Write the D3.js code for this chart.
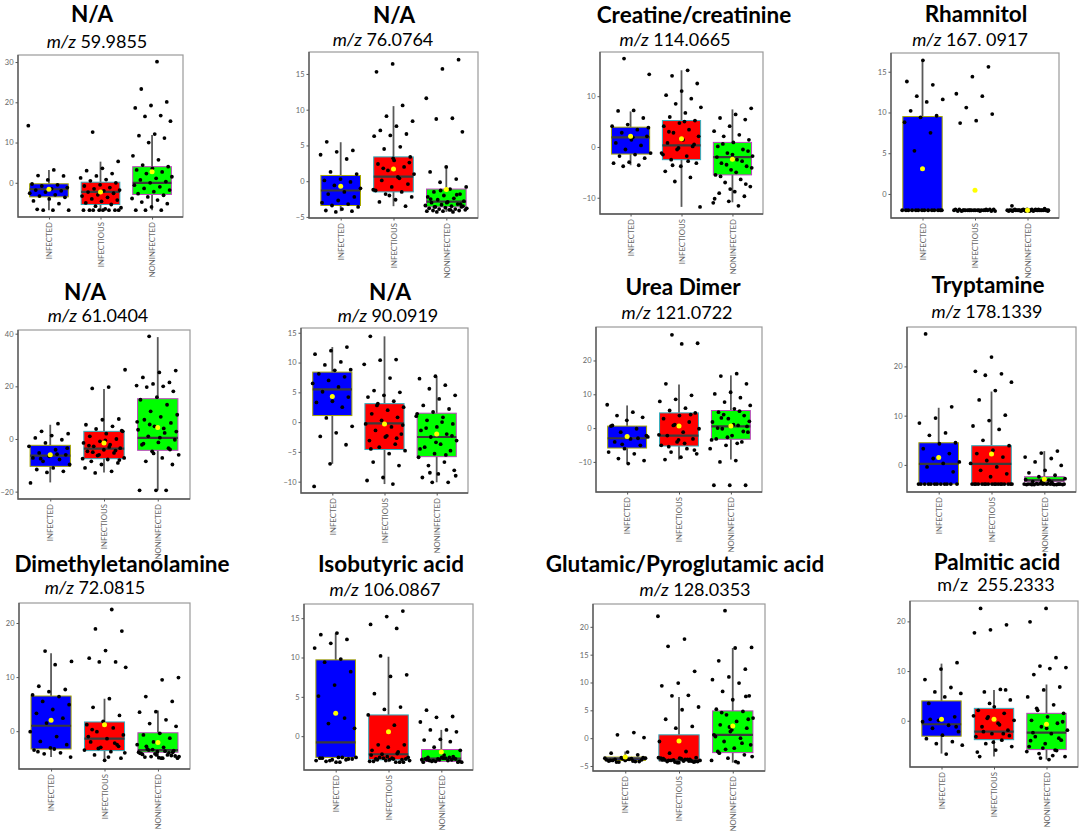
<!DOCTYPE html>
<html>
<head>
<meta charset="utf-8">
<script src="https://cdn.jsdelivr.net/npm/d3@7"></script>
<style>
  body { margin: 0; background: #fff; }
</style>
</head>
<body>
<div id="chart"></div>
<script>
const groups = ["INFECTED", "INFECTIOUS", "NONINFECTED"];
const boxColors = ["#0000ff", "#ff0000", "#00ff00"];
const edgeColors = ["#a8a800", "#30b0c0", "#c040c0"];

const titles = ["N/A", "N/A", "Creatine/creatinine", "Rhamnitol",
  "N/A", "N/A", "Urea Dimer", "Tryptamine",
  "Dimethyletanolamine", "Isobutyric acid", "Glutamic/Pyroglutamic acid", "Palmitic acid"];
const mzValues = ["59.9855", "76.0764", "114.0665", "167. 0917",
  "61.0404", "90.0919", "121.0722", "178.1339",
  "72.0815", "106.0867", "128.0353", "255.2333"];

const yDomains = [[-8.5, 31.75], [-5.15, 18.07], [-13.2, 18.7], [-2.95, 17.3],
  [-22.8, 41.4], [-11.9, 15.8], [-18.9, 29.9], [-5.5, 28],
  [-7, 23.7], [-4.3, 16.8], [-5.9, 24.1], [-9.3, 24.1]];
const yTicks = [[0, 10, 20, 30], [-5, 0, 5, 10, 15], [-10, 0, 10], [0, 5, 10, 15],
  [-20, 0, 20, 40], [-10, -5, 0, 5, 10, 15], [-10, 0, 10, 20], [0, 10, 20],
  [0, 10, 20], [0, 5, 10, 15], [-5, 0, 5, 10, 15, 20], [0, 10, 20]];

// per group: [lower whisker, q1, median, q3, upper whisker, mean]
const boxStats = [
  [[-6.8, -3.5, -1.6, -0.25, 3.2, -1.6], [-6.8, -5.4, -2.25, 0.15, 5.25, -2.3], [-6.8, -2.9, 0, 4.0, 11.9, 2.75]],
  [[-4.2, -3.4, -1.3, 0.8, 5.45, -0.7], [-3.5, -1.5, 0.65, 3.4, 10.5, 1.7], [-4.3, -3.6, -2.85, -1.1, 2.0, -1.15]],
  [[-3.6, -1.4, 1.9, 3.9, 7.0, 2.1], [-11.8, -2.5, 0.3, 5.2, 15.1, 1.6], [-10.9, -5.5, -2.0, 0.9, 7.4, -2.4]],
  [[-2, -2, -2, 9.5, 16.4, 3.1], [-2, -2, -2, -2, -2, 0.45], [-2, -2, -2, -2, -2, -2]],
  [[-16.5, -10.4, -6.3, -2.4, 5.4, -6.0], [-12.7, -7.5, -3.7, 2.9, 19.0, -1.5], [-19.5, -4.3, 0.4, 15.3, 38.7, 4.4]],
  [[-7.0, 1.1, 5.5, 8.4, 12.6, 4.3], [-10.4, -4.6, -0.2, 3.1, 14.4, -0.3], [-10.1, -5.8, -2.5, 1.5, 7.6, -2.0]],
  [[-10.3, -5.9, -3.0, 0.6, 6.7, -2.5], [-9.3, -5.3, -2.2, 4.5, 12.9, 0.6], [-9.3, -3.3, 0.5, 5.2, 15.6, 0.6]],
  [[-3.9, -3.9, 0.2, 4.5, 11.6, 1.5], [-3.9, -3.9, 0.2, 3.9, 14.9, 2.2], [-3.9, -3.4, -3.1, -2.4, 2.8, -2.9]],
  [[-4.8, -3.3, 1.0, 6.5, 14.4, 2.0], [-5.3, -3.6, -1.4, 1.7, 6.0, 1.2], [-4.8, -3.9, -3.5, -0.3, 3.8, -2.1]],
  [[-2.7, -2.7, -0.8, 9.7, 13.1, 2.9], [-3.3, -3.0, -2.3, 2.7, 10.1, 0.55], [-3.2, -3.2, -2.85, -1.7, 0.8, -2.0]],
  [[-4.3, -4.0, -3.7, -3.4, -2.4, -3.4], [-4.4, -4.0, -4.0, 0.6, 7.4, -0.5], [-4.4, -2.6, 0.6, 4.9, 16.2, 2.2]],
  [[-6.6, -3.1, -0.7, 4.0, 11.5, 0.3], [-7.2, -3.8, -2.2, 2.5, 6.2, 0.3], [-7.8, -5.8, -2.4, 1.5, 7.3, -0.7]]
];

// individual samples per group
const pointValues = [
  [[14.2, 3.2, 1.8, 1.7, 0.7, -0.3, -0.5, -0.8, -1.2, -1.5, -1.8, -2, -2.3, -2.6, -3, -3.3, -3.6, -4, -4.5, -5.2, -6.8, -6.8, -6.8, -6.6],
   [12.6, 5.3, 3.6, 3.0, 2.3, 1.7, 1.2, 0.8, 0.5, 0, -0.5, -0.8, -1.2, -1.5, -1.8, -2.0, -2.3, -2.6, -3.0, -3.3, -3.6, -4.0, -4.3, -4.6, -5.0, -5.4, -5.8, -6.2, -6.5, -6.8, -6.8, -6.8, -6.8, -6.8, -6.8, -6.8, -6.8],
   [30.1, 23.3, 20.1, 19.2, 18.6, 16.7, 16.5, 15.3, 12.1, 11.7, 11.1, 10, 6.7, 5.7, 4.4, 4, 3.6, 3.2, 2.7, 2.3, 1.5, 1.1, 0.7, 0.3, 0, -0.6, -1, -1.4, -1.8, -2.2, -2.7, -3.1, -3.5, -3.9, -4.3, -4.8, -5.2, -6, -6.8, -6.8, -6.8]],
  [[5.5, 4.3, 4.1, 3.7, 3.1, 1.3, 1, 0.3, 0.1, -0.1, -0.6, -1, -1.5, -1.8, -2.2, -2.7, -3, -3.2, -3.4, -3.6, -3.9, -4.1, -4.2, -4.3],
   [16.4, 15.3, 10.6, 9.1, 8.4, 7.7, 7.1, 6.6, 6.4, 6.3, 4.8, 4.5, 3.4, 2.9, 2.4, 2, 1.5, 1, 0.6, 0.1, -0.4, -0.8, -1.3, -1.5, -1.8, -2.2, -2.6, -2.9, -3.5, -2.0, -1.2, 0.4, 1.8, 2.6, 3.2],
   [17, 15.7, 11.6, 8.8, 8.7, 6.9, 2, 1.3, 0.3, -0.15, -0.8, -1.1, -1.5, -1.8, -2.0, -2.2, -2.4, -2.6, -2.8, -2.9, -3.0, -3.2, -3.3, -3.4, -3.5, -3.6, -3.6, -3.7, -3.8, -3.9, -3.9, -4.0, -4.0, -4.1, -4.1, -4.2, -4.2, -4.3, -4.3, -3.5, -3.0, -2.5, -1.9, -1.3, -3.8, -4.0, -3.6, -3.2]],
  [[17.4, 14.3, 7.2, 7.1, 5.7, 4.4, 4.1, 3.4, 2.8, 2.1, 1.4, 0.8, 0.3, -0.5, -1.2, -1.5, -1.8, -2.2, -3, -3.2, -3.6, -3.8, 3.8, 1.9],
   [15.1, 14, 12.5, 11, 10.2, 9.5, 8.5, 7.8, 6.7, 5.9, 5.2, 4.7, 4.1, 3.4, 2.8, 2.1, 1.4, 0.8, 0.1, -0.5, -1.2, -1.8, -2.5, -3.2, -3.8, -4.8, -6, -6.8, -11.8, 5.0, 3.0, 0.5, -0.2, -1.5, -2.8, -3.6],
   [7.6, 6.4, 5.7, 5.4, 4.1, 3.1, 2.4, 2.1, 1.4, 0.9, 0.1, -0.5, -1.2, -1.8, -2.5, -3.2, -3.8, -4.5, -5.5, -6.4, -7, -7.8, -8.8, -9.1, -9.7, -10.7, -11, -11.6, 0.6, -0.8, -1.5, -2.0, -2.8, -3.5, -4.1, -5.0, -5.8, -7.3, -8.3, -10.2]],
  [[16.4, 13.8, 13.4, 12, 11.6, 11.3, 10.2, 9.6, 9.4, 8.8, 7.5, 5.3, -2, -2, -2, -2, -2, -2, -2, -2, -2, -2, -2, -2, -2, -2],
   [15.6, 14.4, 12.3, 12, 10.6, 9.8, 9, 8.7, -1.9, -2, -2, -2.1, -2, -1.9, -2, -2.1, -2, -2, -1.9, -2, -2.1, -2, -2, -1.9, -2, -2, -2.1, -2, -1.9, -2, -2, -2.1, -2, -2],
   [-1.45, -2, -2, -2.1, -1.9, -2, -2, -2.1, -2, -1.9, -2, -2, -2.1, -2, -2, -1.9, -2, -2.1, -2, -2, -1.9, -2, -2, -2.1, -2, -2, -1.9, -2, -2, -2.1, -2, -2, -1.8, -2, -2.1, -1.9, -2, -2]],
  [[5.8, 2.9, 2, 1.3, 0.4, -0.3, -1.5, -2.8, -4.1, -5.3, -6, -6.6, -7.2, -7.8, -8.5, -9.7, -11, -11.6, -12.3, -12.7, -16.7, -5.8, -7.5, -3.5],
   [26.3, 19.7, 19.2, 7.6, 7.3, 5.4, 4.8, 3.8, 2.9, 2, 1, 0, -0.9, -1.5, -2.2, -2.8, -3.5, -4.1, -4.7, -5.3, -6.3, -7.2, -7.8, -8.5, -9.1, -9.7, -11, -12.3, -12.9, 3.2, -0.5, -2.5, -4.4, -6.0, -7.5, -3.0, -5.0, -8.0],
   [39, 26, 25.3, 23.4, 21.5, 20.9, 20.3, 20, 19.7, 18.1, 15.9, 14.9, 13, 10.5, 9.2, 8.4, 7.3, 6.1, 4.8, 3.5, 2.3, 1, -0.3, -1.3, -2.2, -3.5, -4.7, -6, -7.2, -8.5, -9.7, -19.5, -19.5, -19.5, 5.5, 2.8, 0.5, -1.8, -4.0, -5.5, 6.5, 4.0]],
  [[12.6, 12, 11.4, 10.1, 9.6, 8.8, 8.7, 8.1, 7.6, 7, 6.5, 5.9, 5.1, 4.2, 3.5, 3.3, 2.5, 0.7, -0.7, -1.8, -2.4, -3.8, -7, -10.8],
   [14.4, 10.5, 10.4, 9.7, 7.4, 5.3, 5, 4.5, 4.2, 3.5, 3.1, 2.5, 2, 1.4, 0.8, 0.3, -0.3, -0.8, -1.4, -2, -2.5, -3.1, -3.7, -4.2, -4.8, -5.3, -6.7, -7.3, -9.3, -9.8, -10.4, 2.8, -0.5, -2.3, -4.5, -2.7],
   [7.7, 7.3, 6.2, 5.6, 4.5, 3.9, 2.8, 2.2, 1.7, 1.4, 0.8, 0.3, -0.3, -0.8, -1.4, -2, -2.5, -3.1, -3.7, -4.2, -4.8, -5.3, -5.9, -6.7, -7.3, -8.1, -8.7, -9.3, -10.1, -10.1, 1.0, 0.0, -1.0, -2.3, -3.4, -4.5, -5.5, -8.5, -9.0]],
  [[6.9, 4.7, 3.7, 3.2, 2.3, 0.6, -0.2, -1.2, -2.2, -3.2, -4.1, -5.1, -6.1, -7.1, -7.6, -9, -9.6, -10.5, 0.8, -3.0, -4.8, -2.6],
   [27.6, 25.1, 24.9, 13.1, 9.7, 8.5, 7.9, 5.9, 5.2, 4.5, 3.7, 2.8, 1.8, 0.8, -0.2, -1.2, -2.2, -3.2, -4.1, -5.1, -6.1, -7.1, -7.6, -8.6, -9.3, 4.0, 1.0, -2.0, -4.5, -5.5, -6.5, -3.5],
   [16.1, 15.4, 13.1, 10.6, 10.1, 9, 7.7, 6.7, 5.7, 4.7, 3.7, 2.8, 1.8, 0.8, -0.2, -1.2, -2.2, -3.2, -4.1, -5.1, -6.1, -9.6, -10, -16.9, -16.9, -16.9, 5.0, 4.0, 2.0, 1.0, 0.0, -1.0, -2.7, -3.5, -4.5, 3.0, 0.5]],
  [[26.6, 11.8, 9.5, 8.5, 6.5, 6, 4.5, 4.3, 3.3, 2.3, 1.3, 0.6, 0.3, -0.4, -1.4, -3.9, -3.9, -3.9, -3.9, -3.9, -3.9, -3.9, -3.9, -3.9, -3.9, -3.9, -3.9],
   [21.9, 19, 18.5, 18.2, 16.8, 15.1, 13.2, 10.1, 9, 7.9, 7.2, 5, 3.9, 3, 2.3, 1.6, 0.9, 0.3, -0.4, -1.1, -1.8, -2.4, -3.9, -3.9, -3.9, -3.9, -3.9, -3.9, -3.9, -3.9, -3.9, -3.9, -3.9, -3.9, -3.9, -3.9, -3.9, -3.9, -3.9, -3.9],
   [2.8, 2.4, 1.6, 1.3, 0.6, -0.1, -1.1, -1.6, -2.1, -2.4, -2.8, -3.1, -3.4, -3.9, -3.9, -4.0, -3.9, -3.8, -4.0, -3.9, -3.9, -4.0, -3.8, -3.9, -3.9, -4.0, -3.9, -3.8, -3.9, -4.0, -3.9, -3.9, -3.8, -4.0, -3.9, -3.3, -3.0, -3.5]],
  [[14.8, 12.9, 12.3, 8.3, 7.7, 7.3, 6.7, 6.4, 5.5, 4.9, 4, 3.3, 2.4, 1.5, -0.1, -1, -1.9, -2.5, -3.1, -3.5, -4, -4.2, -4.8, -3.3, -3.8],
   [22.5, 18.9, 18.5, 14.9, 13.5, 12.8, 12.8, 11.8, 6, 4.4, 2.9, 1.8, 1.2, 0.6, -0.1, -0.7, -1.4, -2, -2.5, -3, -3.5, -3.8, -4.4, -5, -5.4, -1.0, -2.2, -3.2, -4.0, -4.8, 0.3, -2.8],
   [9.9, 9.5, 6.4, 5.5, 3.6, 3.5, 2.1, 1.4, 0.9, -0.4, -0.7, -1.3, -2, -2.5, -3, -3.3, -3.6, -3.8, -4.1, -4.4, -4.7, -5, -5, -4.8, -4.5, -4.2, -3.9, -3.7, -3.5, -4.6, -4.9, -4.3, -4.0, -3.4, -4.7, -5.0, -2.8, -3.9, -4.4, -4.1]],
  [[13.1, 12.9, 12.3, 11.8, 11.2, 9.8, 9.4, 8.2, 6.5, 5.1, 2.3, 1.6, 1, -2.7, -2.8, -2.9, -3.0, -3.1, -2.7, -3.2, -2.9, -3.3, -2.8, -3.0, -3.1, -2.7, -3.3],
   [15.9, 15.2, 14.2, 13.7, 10.2, 7.8, 7.6, 5.4, 3.7, 3.4, 2.7, 1.4, -1.1, -1.1, -1.4, -1.8, -2, -2.3, -2.7, -2.8, -2.9, -3.0, -3.1, -3.2, -3.3, -2.7, -2.9, -3.0, -3.2, -3.3, -2.8, -3.1, -2.9, -3.0, -3.3, -2.6, -2.4, -2.2],
   [3.3, 2.5, 2.4, 1.8, 0.8, 0.8, 0.55, -0.4, -0.5, -0.7, -1.4, -1.8, -2.4, -2.7, -2.8, -2.9, -3.0, -3.1, -3.2, -3.3, -2.7, -2.9, -3.0, -3.2, -3.3, -2.8, -3.1, -2.9, -3.0, -3.3, -2.7, -3.1, -3.2, -2.8, -3.0, -2.6]],
  [[1, 0.6, 0.1, -2.5, -2.7, -3, -3.5, -3.6, -3.7, -3.8, -3.9, -4.0, -4.1, -4.2, -4.3, -3.6, -3.8, -4.0, -4.2, -3.7, -3.9, -4.1, -4.3, -3.5, -3.8, -4.0],
   [21.9, 17.8, 16.5, 12, 9.9, 9.4, 7.7, 7.6, 5.6, 5.1, 3.4, 2.1, 1.8, -0.6, -2.4, -2.7, -3.5, -3.6, -3.7, -3.8, -3.9, -4.0, -4.1, -4.2, -4.3, -4.4, -3.6, -3.8, -4.0, -4.2, -3.7, -3.9, -4.1, -4.3, -3.5, -3.8, -4.0, -4.2, -4.4, -3.9, -4.1],
   [22.9, 16.3, 16.2, 13.9, 12.4, 11, 10.5, 9.9, 8.4, 7.6, 6.9, 5.2, 4.8, 4.2, 3.6, 3, 2.4, 1.8, 1.2, 0.6, 0, -0.6, -1.2, -1.8, -2.4, -3, -3.6, -4, -4.4, 4.6, 3.4, 1.5, 0.3, -0.9, -2.0, -3.3, -4.2, -2.7, 7.5, 2.0]],
  [[11.7, 10.4, 8.3, 6.7, 5.8, 5.5, 4.8, 3.5, 0.8, 0.1, -0.2, -0.9, -1.5, -2.2, -2.9, -3.6, -4.2, -4.6, -4.9, -6.7, 0.3, -1.2],
   [22.6, 19.3, 18.3, 17.7, 6.3, 5.8, 4.2, 2.8, 2.1, 1.5, 0.8, 0.1, -0.5, -1.2, -1.9, -2.6, -3.2, -3.9, -4.6, -5.2, -5.9, -7.2, 6.2, 3.5, 1.0, -0.8, -2.2, -3.0, -4.3, -6.3, -2.6, 0.5],
   [22.6, 19.9, 12.7, 11, 10.7, 10.5, 9.3, 6.8, 6.2, 4.8, 3.2, 2.1, 1.5, 0.8, 0.1, -0.5, -1.2, -1.9, -2.6, -3.2, -3.9, -4.6, -5.2, -5.9, -6.6, -7.2, -7.8, -2.4, -3.5, -5.5, -6.2, -7.0, 2.5, -0.2, -1.5, -4.0, -6.0, -7.5]]
];

// layout: plot frame [x0, y0, x1, y1], title and m/z label anchor [x, baseline]
const frames = [
  [18, 55, 183, 217], [309, 52, 478, 218], [600, 52, 763, 214], [891, 53, 1059, 218],
  [18, 330, 190, 499], [301, 328, 468, 493], [596, 327, 762, 492], [907, 327, 1076, 492],
  [19, 603, 190, 769], [304, 604, 473, 770], [593, 604, 765, 771], [910, 601, 1078, 767]
];
const titlePos = [[92, 22], [394, 23], [694, 23], [976, 22], [85, 300], [390, 300], [683, 295], [988, 293],
  [122, 572], [391, 572], [685, 572], [997, 570]];
const subPos = [[97, 48], [383, 46], [675, 46], [970, 46], [98, 322], [388, 322], [677, 319], [987, 318],
  [95, 594], [385, 596], [695, 596], [996, 591]];

const svg = d3.select("#chart").append("svg")
  .attr("width", 1084)
  .attr("height", 831)
  .style("background", "#fff");

const fontFamily = "Lato, 'Open Sans', sans-serif";

titles.forEach((title, i) => {
  const [x0, y0, x1, y1] = frames[i];
  const g = svg.append("g");

  const x = d3.scalePoint().domain(groups).range([x0, x1]).padding(0.6);
  const y = d3.scaleLinear().domain(yDomains[i]).range([y1, y0]);
  const boxW = x.step() * 0.75;

  // titles
  g.append("text")
    .attr("x", titlePos[i][0]).attr("y", titlePos[i][1])
    .attr("text-anchor", "middle")
    .attr("font-family", fontFamily)
    .attr("font-weight", 700)
    .attr("font-size", "22.5px")
    .attr("fill", "#000")
    .text(title);

  const sub = g.append("text")
    .attr("x", subPos[i][0]).attr("y", subPos[i][1])
    .attr("text-anchor", "middle")
    .attr("font-family", fontFamily)
    .attr("font-size", "18px")
    .attr("fill", "#000");
  if (i === 11) {
    sub.attr("xml:space", "preserve").text("m/z  " + mzValues[i]);
  } else {
    sub.append("tspan").attr("font-style", "italic").text("m/z");
    sub.append("tspan").text(" " + mzValues[i]);
  }

  // frame
  g.append("rect")
    .attr("x", x0).attr("y", y0)
    .attr("width", x1 - x0).attr("height", y1 - y0)
    .attr("fill", "#fff")
    .attr("stroke", "#9a9a9a")
    .attr("stroke-width", 1.2);
  g.append("path")
    .attr("d", `M${x0},${y0}V${y1}H${x1}`)
    .attr("fill", "none")
    .attr("stroke", "#555")
    .attr("stroke-width", 1.3);

  // y axis
  const yAxis = g.append("g")
    .attr("transform", `translate(${x0},0)`)
    .call(d3.axisLeft(y).tickValues(yTicks[i]).tickSize(2.5).tickPadding(2));
  yAxis.select(".domain").remove();
  yAxis.selectAll("line").attr("stroke", "#555");
  yAxis.selectAll("text").attr("fill", "#666").attr("font-size", "7.5px").attr("font-family", fontFamily);

  // x axis
  const xAxis = g.append("g")
    .attr("transform", `translate(0,${y1})`)
    .call(d3.axisBottom(x).tickSize(2.5).tickPadding(3));
  xAxis.select(".domain").remove();
  xAxis.selectAll("line").attr("stroke", "#555");
  xAxis.selectAll("text")
    .attr("fill", "#666").attr("font-size", "7.8px").attr("font-family", fontFamily)
    .attr("text-anchor", "end")
    .attr("dy", "0.35em")
    .attr("transform", "rotate(-90)")
    .attr("x", -5).attr("y", 0);

  groups.forEach((grp, k) => {
    const [lo, q1, med, q3, hi, mean] = boxStats[i][k];
    const cx = x(grp);

    // whisker
    g.append("line")
      .attr("x1", cx).attr("x2", cx)
      .attr("y1", y(lo)).attr("y2", y(hi))
      .attr("stroke", "#5a5a5a")
      .attr("stroke-width", 1.8);

    // box
    g.append("rect")
      .attr("x", cx - boxW / 2).attr("width", boxW)
      .attr("y", y(q3)).attr("height", Math.max(y(q1) - y(q3), 0.5))
      .attr("fill", boxColors[k])
      .attr("stroke", edgeColors[k])
      .attr("stroke-width", 1);

    g.append("line")
      .attr("x1", cx - boxW / 2).attr("x2", cx + boxW / 2)
      .attr("y1", y(med)).attr("y2", y(med))
      .attr("stroke", "#3a3a3a")
      .attr("stroke-width", 2.2);

    // jittered samples
    const vals = pointValues[i][k];
    g.append("g").selectAll("circle")
      .data(vals)
      .join("circle")
      .attr("cx", (d, j) => cx + (((j * 0.618034 + k * 0.31 + i * 0.17) % 1) - 0.5) * 0.8 * x.step())
      .attr("cy", d => y(d))
      .attr("r", 1.9)
      .attr("fill", "#000");

    // mean
    g.append("circle")
      .attr("cx", cx).attr("cy", y(mean))
      .attr("r", 2.5)
      .attr("fill", "#ffff00");
  });
});
</script>
</body>
</html>
